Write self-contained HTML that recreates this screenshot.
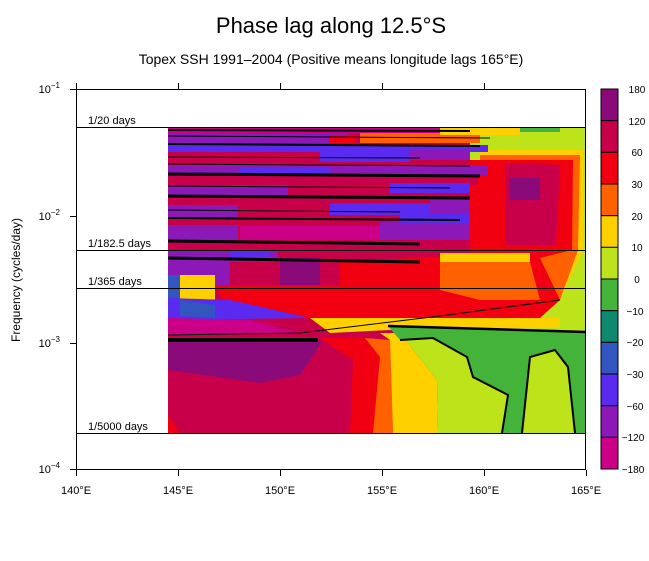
<!DOCTYPE html>
<html><head><meta charset="utf-8"><style>
body{margin:0;background:#fff;}
svg{display:block;font-family:"Liberation Sans",sans-serif;}
</style></head><body>
<svg width="649" height="561" viewBox="0 0 649 561" xmlns="http://www.w3.org/2000/svg">
<rect width="649" height="561" fill="#fff"/>
<text x="331" y="33" font-size="22" text-anchor="middle">Phase lag along 12.5°S</text>
<text x="331" y="64" font-size="14" text-anchor="middle">Topex SSH 1991–2004 (Positive means longitude lags 165°E)</text>

<g stroke="none">
<rect x="168" y="127" width="418" height="306" fill="#c8004a"/>
<polygon points="470,127 586,127 586,433 470,433" fill="#bde31a"/>
<polygon points="480,150 583,150 583,250 560,300 480,300" fill="#ffd000"/>
<polygon points="480,155 580,155 578,250 560,300 480,300" fill="#ff6000"/>
<polygon points="470,160 573,160 572,250 540,258 470,258" fill="#f00010"/>
<polygon points="505,163 560,165 556,245 505,245" fill="#c8004a"/>
<polygon points="510,178 540,178 540,200 510,200" fill="#8b0a7a"/>
<rect x="168" y="127" width="300" height="6" fill="#cc0088"/>
<rect x="168" y="133" width="180" height="10" fill="#8c18b8"/>
<rect x="330" y="135" width="25" height="8" fill="#f00010"/>
<rect x="360" y="133" width="120" height="10" fill="#ff6000"/>
<rect x="440" y="127" width="80" height="8" fill="#ffd000"/>
<rect x="520" y="127" width="40" height="5" fill="#44b33a"/>
<rect x="168" y="145" width="320" height="7" fill="#5a2af0"/>
<rect x="168" y="152" width="300" height="12" fill="#c8004a"/>
<rect x="320" y="152" width="90" height="10" fill="#5a2af0"/>
<rect x="410" y="150" width="60" height="10" fill="#8c18b8"/>
<rect x="168" y="165" width="320" height="10" fill="#8c18b8"/>
<rect x="240" y="167" width="90" height="6" fill="#5a2af0"/>
<rect x="168" y="175" width="310" height="10" fill="#c8004a"/>
<rect x="168" y="185" width="120" height="10" fill="#8c18b8"/>
<rect x="390" y="183" width="80" height="10" fill="#5a2af0"/>
<rect x="168" y="205" width="70" height="12" fill="#8c18b8"/>
<rect x="330" y="203" width="100" height="12" fill="#5a2af0"/>
<rect x="430" y="200" width="40" height="14" fill="#8c18b8"/>
<rect x="168" y="225" width="70" height="15" fill="#8c18b8"/>
<rect x="240" y="226" width="140" height="14" fill="#cc0088"/>
<rect x="380" y="222" width="90" height="18" fill="#8c18b8"/>
<rect x="400" y="213" width="70" height="10" fill="#5a2af0"/>
<rect x="168" y="250" width="110" height="12" fill="#8c18b8"/>
<rect x="230" y="250" width="40" height="10" fill="#5a2af0"/>
<polygon points="340,262 460,255 540,258 560,300 540,318 340,318" fill="#f00010"/>
<polygon points="440,262 530,262 540,300 480,300 440,290" fill="#ff6000"/>
<polygon points="440,253 530,253 530,262 440,262" fill="#ffd000"/>
<rect x="168" y="262" width="62" height="25" fill="#8c18b8"/>
<rect x="280" y="258" width="40" height="32" fill="#8b0a7a"/>
<polygon points="215,285 340,285 340,318 230,318" fill="#f00010"/>
<rect x="180" y="275" width="35" height="25" fill="#ffd000"/>
<rect x="168" y="275" width="12" height="25" fill="#3355c0"/>
<polygon points="168,298 230,300 310,318 168,320" fill="#5a2af0"/>
<polygon points="180,300 215,305 215,318 180,316" fill="#3355c0"/>
<polygon points="168,318 250,320 300,333 168,335" fill="#cc0088"/>
<polygon points="310,318 560,318 560,328 390,330 330,333" fill="#ffd000"/>
<rect x="168" y="338" width="150" height="4" fill="#000"/>
<polygon points="168,342 322,342 300,375 260,383 168,370" fill="#8b0a7a"/>
<polygon points="320,338 353,360 350,433 373,433 380,357 365,338" fill="#f00010"/>
<polygon points="365,338 380,357 373,433 393,433 390,340" fill="#ff6000"/>
<polygon points="380,333 400,333 437,380 438,433 393,433 390,340" fill="#ffd000"/>
<polygon points="400,333 586,330 586,433 438,433 437,380" fill="#bde31a"/>
<polygon points="388,326 586,332 586,433 575,433 568,367 555,350 530,357 522,433 502,433 508,395 473,377 467,357 433,338 400,340" fill="#44b33a"/>
<polygon points="168,415 180,433 168,433" fill="#f00010"/>
</g>
<g stroke="#000" fill="none" stroke-width="1">
<polyline points="168,130 470,131" stroke-width="2"/>
<polyline points="168,136 490,138"/><polyline points="168,144 480,146" stroke-width="2"/>
<polyline points="168,157 420,158"/>
<polyline points="168,164 470,166"/><polyline points="168,174 480,176" stroke-width="3"/>
<polyline points="168,186 450,188"/>
<polyline points="168,196 470,198" stroke-width="3"/><polyline points="168,210 400,212"/>
<polyline points="168,218 460,220" stroke-width="2"/>
<polyline points="168,241 420,244" stroke-width="3"/><polyline points="168,258 420,262" stroke-width="3"/>
<polyline points="388,326 586,332" stroke-width="2.5"/>
<polyline points="400,340 433,338 467,357 473,377 508,395 502,433" stroke-width="2"/>
<polyline points="522,433 530,357 555,350 568,367 575,433" stroke-width="2"/>
<polyline points="168,335 300,333 440,316 560,300"/>
</g>
<rect x="76.5" y="89.5" width="509" height="380" fill="none" stroke="#000"/>
<g stroke="#000" stroke-width="1">
<line x1="76" y1="127.5" x2="586" y2="127.5"/>
<line x1="76" y1="250.5" x2="586" y2="250.5"/>
<line x1="76" y1="288.5" x2="586" y2="288.5"/>
<line x1="76" y1="433.5" x2="586" y2="433.5"/>
</g>
<g font-size="11">
<text x="88" y="124">1/20 days</text>
<text x="88" y="247">1/182.5 days</text>
<text x="88" y="285">1/365 days</text>
<text x="88" y="430">1/5000 days</text>
</g>
<g stroke="#000">
<line x1="76.5" y1="470" x2="76.5" y2="476"/><line x1="178.5" y1="470" x2="178.5" y2="476"/>
<line x1="280.5" y1="470" x2="280.5" y2="476"/><line x1="382.5" y1="470" x2="382.5" y2="476"/>
<line x1="484.5" y1="470" x2="484.5" y2="476"/><line x1="586.5" y1="470" x2="586.5" y2="476"/>
<line x1="76.5" y1="83" x2="76.5" y2="89"/><line x1="178.5" y1="83" x2="178.5" y2="89"/>
<line x1="280.5" y1="83" x2="280.5" y2="89"/><line x1="382.5" y1="83" x2="382.5" y2="89"/>
<line x1="484.5" y1="83" x2="484.5" y2="89"/>
<line x1="70" y1="89.5" x2="76" y2="89.5"/><line x1="70" y1="216.5" x2="76" y2="216.5"/>
<line x1="70" y1="343.5" x2="76" y2="343.5"/><line x1="70" y1="469.5" x2="76" y2="469.5"/>
</g>
<g font-size="11" text-anchor="middle">
<text x="76" y="494">140°E</text><text x="178" y="494">145°E</text><text x="280" y="494">150°E</text>
<text x="382" y="494">155°E</text><text x="484" y="494">160°E</text><text x="586" y="494">165°E</text>
</g>
<g font-size="11" text-anchor="end">
<text x="60" y="93">10<tspan font-size="8" dy="-5">−1</tspan></text>
<text x="60" y="220">10<tspan font-size="8" dy="-5">−2</tspan></text>
<text x="60" y="347">10<tspan font-size="8" dy="-5">−3</tspan></text>
<text x="60" y="473">10<tspan font-size="8" dy="-5">−4</tspan></text>
</g>
<text transform="translate(20,280) rotate(-90)" font-size="12" text-anchor="middle">Frequency (cycles/day)</text>
<g stroke="#000">
<rect x="601" y="89" width="17" height="31.7" fill="#8b0a7a"/>
<rect x="601" y="120.7" width="17" height="31.7" fill="#c8004a"/>
<rect x="601" y="152.3" width="17" height="31.7" fill="#f00010"/>
<rect x="601" y="184" width="17" height="31.7" fill="#ff6000"/>
<rect x="601" y="215.7" width="17" height="31.7" fill="#ffd000"/>
<rect x="601" y="247.3" width="17" height="31.7" fill="#bde31a"/>
<rect x="601" y="279" width="17" height="31.7" fill="#44b33a"/>
<rect x="601" y="310.7" width="17" height="31.7" fill="#0f8870"/>
<rect x="601" y="342.3" width="17" height="31.7" fill="#3355c0"/>
<rect x="601" y="374" width="17" height="31.7" fill="#5a2af0"/>
<rect x="601" y="405.7" width="17" height="31.7" fill="#8c18b8"/>
<rect x="601" y="437.3" width="17" height="31.7" fill="#cc0088"/>
</g>
<g font-size="10" text-anchor="middle">
<text x="637" y="93">180</text><text x="637" y="125">120</text><text x="637" y="156">60</text>
<text x="637" y="188">30</text><text x="637" y="220">20</text><text x="637" y="251">10</text>
<text x="637" y="283">0</text><text x="635" y="315">−10</text><text x="635" y="346">−20</text>
<text x="635" y="378">−30</text><text x="635" y="410">−60</text><text x="633" y="441">−120</text>
<text x="633" y="473">−180</text>
</g>
</svg>
</body></html>
